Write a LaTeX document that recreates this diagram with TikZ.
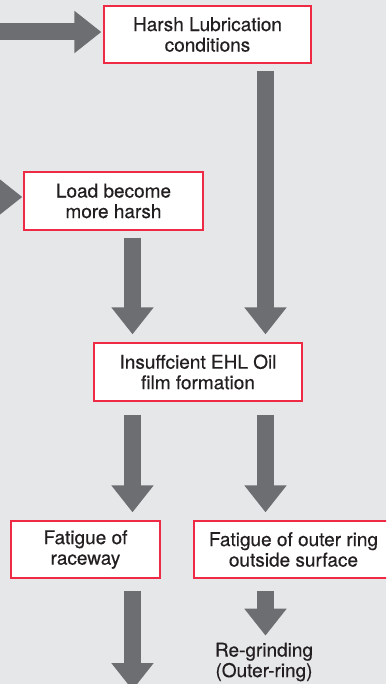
\documentclass[tikz,border=0pt]{standalone}
\usepackage{fontspec}
\setmainfont{TeX Gyre Heros}
\newfontfamily\medfont{TeX Gyre Heros}[FakeBold=0.45]
\usetikzlibrary{arrows.meta,calc}
\definecolor{bg}{HTML}{E6E7E9}
\definecolor{boxred}{HTML}{EE2A44}
\definecolor{arrgray}{HTML}{6D6E71}
\definecolor{txt}{HTML}{231F20}
\begin{document}
\begin{tikzpicture}[x=1pt,y=-1pt,
  causebox/.style={draw=boxred, line width=1.3pt, fill=white, text=txt,
    align=center, inner sep=0pt, font=\medfont\fontsize{19}{20.5}\selectfont},
  plain/.style={text=txt, align=center, inner sep=0pt, font=\medfont\fontsize{19}{20.5}\selectfont},
  bigarrow/.style={draw=arrgray, line width=17pt,
    -{Triangle[width=40.6pt,length=27pt]}}]
\fill[bg] (0,0) rectangle (386,684);
\useasboundingbox (0,0) rectangle (386,684);
\clip (0,0) rectangle (386,684);
\coordinate (cL) at (132.5,0);
\coordinate (cR) at (265.5,0);
\node[causebox, minimum width=207pt, minimum height=57pt] (h) at (207.5,34.5) {Harsh Lubrication\\conditions};
\node[causebox, minimum width=179pt, minimum height=58pt] (l) at (113.5,201) {Load become\\more harsh};
\node[causebox, minimum width=208pt, minimum height=58pt] (i) at (198,372) {Insuffcient EHL Oil\\film formation};
\node[causebox, minimum width=149pt, minimum height=57pt] (fr) at (85.5,549.5) {Fatigue of\\raceway};
\node[causebox, minimum width=199pt, minimum height=57pt] (fo) at (293.5,549.5) {Fatigue of outer ring\\outside surface};
\node[plain] (rg) at (264,662) {Re-grinding\\(Outer-ring)};
\coordinate (inH) at (-20,32);
\coordinate (inL) at (-60,197);
\coordinate (outF) at (132.5,690);
\draw[bigarrow] (inH) -- ($(h.west)+(-2,-2.5)$);
\draw[bigarrow] (inL) -- ($(l.west)+(-1,-4)$);
\draw[bigarrow] ($(h.south -| cR)+(0,7)$) -- ($(i.north -| cR)+(0,-8)$);
\draw[bigarrow] ($(l.south -| cL)+(0,7)$) -- ($(i.north -| cL)+(0,-8)$);
\draw[bigarrow] ($(i.south -| cL)+(0,13)$) -- ($(fr.north -| cL)+(0,-8)$);
\draw[bigarrow] ($(i.south -| cR)+(0,13)$) -- ($(fo.north -| cR)+(0,-8)$);
\draw[bigarrow] ($(fr.south -| cL)+(0,12)$) -- (outF);
\draw[bigarrow] ($(fo.south -| cR)+(0,12)$) -- ($(fo.south -| cR)+(0,57)$);
\end{tikzpicture}
\end{document}
